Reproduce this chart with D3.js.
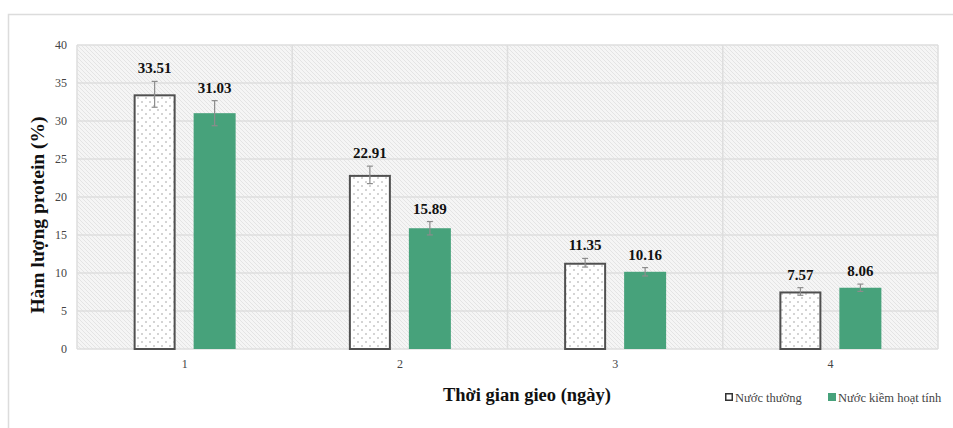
<!DOCTYPE html>
<html>
<head>
<meta charset="utf-8">
<script src="https://cdn.jsdelivr.net/npm/d3@7/dist/d3.min.js"></script>
<style>
  html, body { margin: 0; padding: 0; background: #fff; }
  svg { display: block; }
  svg text { font-family: 'Liberation Serif', 'Times New Roman', serif; }
</style>
</head>
<body>
<div id="chart"></div>
<script>
// Protein content by germination day, two soaking water types
const days = ["1", "2", "3", "4"];
const seriesNames = ["Nước thường", "Nước kiềm hoạt tính"];
const normalWater = [33.51, 22.91, 11.35, 7.57];
const alkalineWater = [31.03, 15.89, 10.16, 8.06];
const normalErr = [1.7, 1.15, 0.57, 0.5];
const alkalineErr = [1.65, 0.88, 0.55, 0.48];
const yTicks = [0, 5, 10, 15, 20, 25, 30, 35, 40];

const W = 953, H = 428;
const serif = "Liberation Serif";
const green = "#47a27b";

const svg = d3.select("#chart").append("svg")
  .attr("width", W).attr("height", H);

const defs = svg.append("defs");
// diagonal hatch for the plot background
const hatch = defs.append("pattern").attr("id", "bgHatch")
  .attr("patternUnits", "userSpaceOnUse").attr("width", 4).attr("height", 4);
hatch.append("rect").attr("width", 4).attr("height", 4).attr("fill", "#f5f5f5");
hatch.append("path").attr("d", "M-1,-1 L5,5 M-1,3 L1,5 M3,-1 L5,1")
  .attr("stroke", "#e4e4e4").attr("stroke-width", 1);
// dotted fill for the plain-water bars
const dots = defs.append("pattern").attr("id", "dotFill")
  .attr("patternUnits", "userSpaceOnUse").attr("width", 8).attr("height", 8);
dots.append("rect").attr("width", 8).attr("height", 8).attr("fill", "#fff");
dots.append("circle").attr("cx", 2).attr("cy", 2).attr("r", 0.7).attr("fill", "#8a8a8a");
dots.append("circle").attr("cx", 6).attr("cy", 6).attr("r", 0.7).attr("fill", "#8a8a8a");

// outer frame
svg.append("path").attr("d", `M8.5,${H} L8.5,14.5 L${W},14.5`)
  .attr("fill", "none").attr("stroke", "#dcdcdc").attr("stroke-width", 1.5);

const x0 = 77, x1 = 938, y0 = 349, y1 = 45;
const x = d3.scaleBand().domain(days).range([x0, x1]).paddingInner(0).paddingOuter(0);
const y = d3.scaleLinear().domain([0, 40]).range([y0, y1]);

const plot = svg.append("g");
plot.append("rect").attr("x", x0).attr("y", y1).attr("width", x1 - x0).attr("height", y0 - y1)
  .attr("fill", "url(#bgHatch)");

// horizontal gridlines
plot.selectAll(".hgrid").data(yTicks).join("line")
  .attr("x1", x0).attr("x2", x1)
  .attr("y1", d => y(d)).attr("y2", d => y(d))
  .attr("stroke", "#dedede").attr("stroke-width", 1.5);
// vertical category separators
plot.selectAll(".vgrid").data(d3.range(days.length + 1)).join("line")
  .attr("x1", i => x0 + i * x.bandwidth()).attr("x2", i => x0 + i * x.bandwidth())
  .attr("y1", y1).attr("y2", y0)
  .attr("stroke", "#dedede").attr("stroke-width", 1.5);

// y axis labels
const yAxis = d3.axisLeft(y).tickValues(yTicks).tickSize(0).tickPadding(10);
const yg = svg.append("g").attr("transform", `translate(${x0},0)`).call(yAxis)
  .attr("font-family", serif).attr("font-size", 12);
yg.select(".domain").remove();
yg.selectAll("text").attr("font-family", serif).attr("font-size", 12).attr("fill", "#444");

// x axis labels
const xAxis = d3.axisBottom(x).tickSize(0).tickPadding(10);
const xg = svg.append("g").attr("transform", `translate(0,${y0})`).call(xAxis)
  .attr("font-family", serif).attr("font-size", 12);
xg.select(".domain").remove();
xg.selectAll("text").attr("font-family", serif).attr("font-size", 12).attr("fill", "#444");

// bars
const barW = 42, gap = 18;
const sub = d3.scaleOrdinal().domain([0, 1]).range([-(gap / 2 + barW), gap / 2]);
const rows = days.map((d, i) => [
  { day: d, s: 0, v: normalWater[i], e: normalErr[i] },
  { day: d, s: 1, v: alkalineWater[i], e: alkalineErr[i] }
]).flat();

const bx = r => x(r.day) + x.bandwidth() / 2 + sub(r.s);

svg.selectAll(".bar").data(rows).join("rect")
  .attr("x", r => bx(r) + (r.s === 0 ? 1 : 0))
  .attr("y", r => y(r.v) + (r.s === 0 ? 1 : 0))
  .attr("width", r => barW - (r.s === 0 ? 2 : 0))
  .attr("height", r => y(0) - y(r.v) - (r.s === 0 ? 1 : 0))
  .attr("fill", r => r.s === 0 ? "url(#dotFill)" : green)
  .attr("stroke", r => r.s === 0 ? "#505050" : "none")
  .attr("stroke-width", 2);

// error bars
const eb = svg.selectAll(".err").data(rows).join("g")
  .attr("stroke", "#8c8c8c").attr("stroke-width", 1.2);
eb.append("line")
  .attr("x1", r => bx(r) + barW / 2).attr("x2", r => bx(r) + barW / 2)
  .attr("y1", r => y(r.v + r.e)).attr("y2", r => y(r.v - r.e));
eb.append("line")
  .attr("x1", r => bx(r) + barW / 2 - 3).attr("x2", r => bx(r) + barW / 2 + 3)
  .attr("y1", r => y(r.v + r.e)).attr("y2", r => y(r.v + r.e));
eb.append("line")
  .attr("x1", r => bx(r) + barW / 2 - 3).attr("x2", r => bx(r) + barW / 2 + 3)
  .attr("y1", r => y(r.v - r.e)).attr("y2", r => y(r.v - r.e));

// value labels
svg.selectAll(".val").data(rows).join("text")
  .attr("x", r => bx(r) + barW / 2)
  .attr("y", r => y(r.v + r.e) - 8)
  .attr("text-anchor", "middle")
  .attr("font-family", serif).attr("font-weight", "bold").attr("font-size", 15)
  .attr("fill", "#111")
  .text(r => r.v.toFixed(2));

// axis titles
svg.append("text")
  .attr("transform", "translate(44,215) rotate(-90)")
  .attr("text-anchor", "middle")
  .attr("font-family", serif).attr("font-weight", "bold").attr("font-size", 19.5)
  .attr("fill", "#111")
  .text("Hàm lượng protein (%)");
svg.append("text")
  .attr("x", 527).attr("y", 401)
  .attr("text-anchor", "middle")
  .attr("font-family", serif).attr("font-weight", "bold").attr("font-size", 18.5)
  .attr("fill", "#111")
  .text("Thời gian gieo (ngày)");

// legend
const legX = [725, 828];
const leg = svg.selectAll(".leg").data(seriesNames).join("g")
  .attr("transform", (d, i) => `translate(${legX[i]},398)`);
leg.append("rect")
  .attr("x", (d, i) => i === 0 ? 0.75 : 0).attr("y", (d, i) => i === 0 ? -4.25 : -5)
  .attr("width", (d, i) => i === 0 ? 6.5 : 8).attr("height", (d, i) => i === 0 ? 6.5 : 8)
  .attr("fill", (d, i) => i === 0 ? "#fff" : green)
  .attr("stroke", (d, i) => i === 0 ? "#333" : "none").attr("stroke-width", 1.5);
leg.append("text")
  .attr("x", 10).attr("y", 4)
  .attr("font-family", serif).attr("font-size", 12.5).attr("fill", "#444")
  .text(d => d);
</script>
</body>
</html>
